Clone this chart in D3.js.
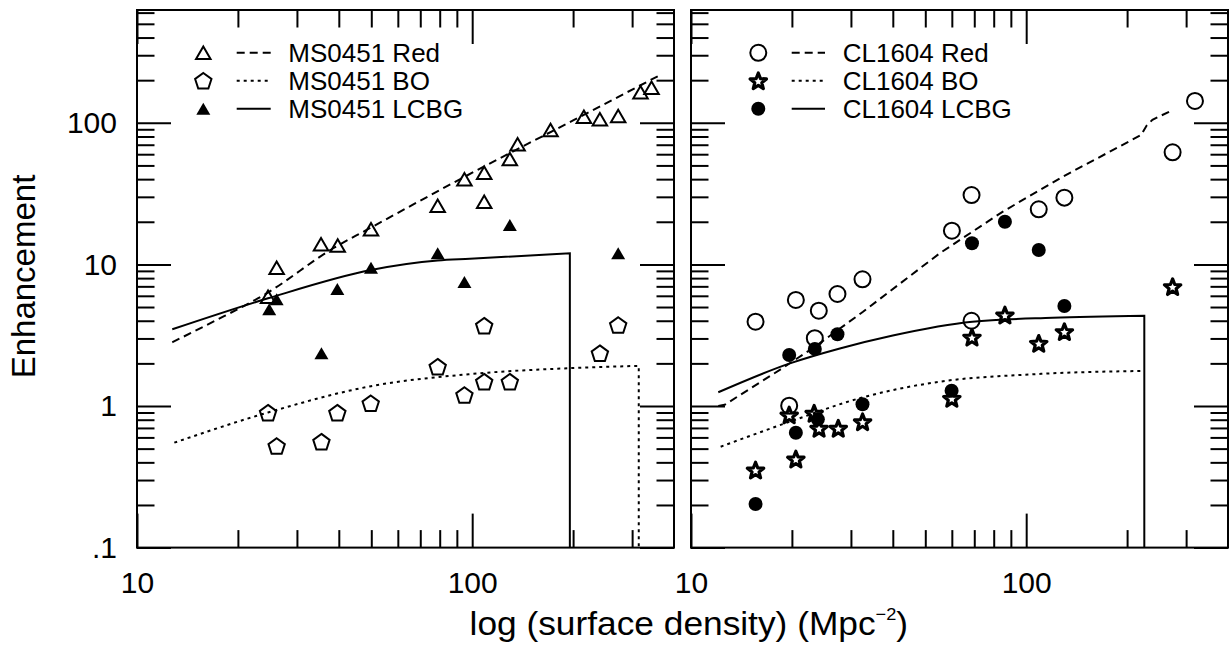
<!DOCTYPE html>
<html><head><meta charset="utf-8">
<script src="https://cdn.jsdelivr.net/npm/d3@7"></script>
<style>
html,body{margin:0;padding:0;background:#fff;}
svg{display:block;}
text{font-family:"Liberation Sans",Arial,Helvetica,sans-serif;fill:#000;}
</style>
</head><body>
<svg id="c" width="1232" height="654"></svg>
<script>
// ---------- axes / ticks ----------
const xDomain = [10, 400];
const yDomain = [0.1, 626];
const xMajorTicks = [10, 100];
const xTickLabels = ["10", "100"];
const xMinorTicks = [20, 30, 40, 50, 60, 70, 80, 90, 200, 300];
const yMajorTicks = [0.1, 1, 10, 100];
const yTickLabels = [".1", "1", "10", "100"];
const yMinorTicks = [0.2,0.3,0.4,0.5,0.6,0.7,0.8,0.9,2,3,4,5,6,7,8,9,20,30,40,50,60,70,80,90,200,300,400,500,600];

// ---------- MS0451 (left panel) ----------
const ms0451RedX = [24.6, 26.1, 35.4, 39.7, 49.9, 78.9, 94.8, 108.6, 108.6, 129.5, 136.6, 171.3, 215.4, 240.4, 272.6, 317.8, 342.8];
const ms0451RedY = [5.91, 9.48, 13.9, 13.6, 17.7, 26.0, 39.9, 44.4, 27.7, 55.5, 70.5, 89.0, 110.5, 105.9, 111.7, 164.2, 177];
const ms0451BOX = [24.6, 26.1, 35.5, 39.6, 49.8, 78.9, 94.8, 108.6, 108.6, 129.5, 240.4, 272.6];
const ms0451BOY = [0.897, 0.522, 0.560, 0.897, 1.045, 1.895, 1.196, 3.69, 1.485, 1.485, 2.36, 3.73];
const ms0451LcbgX = [24.8, 26.1, 35.5, 39.6, 49.9, 78.9, 94.8, 129.5, 272.6];
const ms0451LcbgY = [4.82, 5.67, 2.36, 6.70, 9.48, 11.98, 7.51, 18.98, 11.98];

// model curves (a repeated last x with 0.01 = vertical drop to the axis)
const ms0451RedCurveX = [12.74, 16.89, 24.37, 38.5, 48.4, 95.0, 200, 363];
const ms0451RedCurveY = [2.82, 3.94, 6.25, 13.0, 17.5, 41.6, 104, 217];
const ms0451BOCurveX = [12.92, 24.6, 49.9, 98.4, 195.6, 314, 314];
const ms0451BOCurveY = [0.551, 0.90, 1.38, 1.68, 1.85, 1.92, 0.01];
const ms0451LcbgCurveX = [12.74, 24.6, 49.9, 78.9, 98.4, 195.6, 195.6];
const ms0451LcbgCurveY = [3.48, 5.76, 9.13, 10.65, 10.95, 11.98, 0.01];

// ---------- CL1604 (right panel) ----------
const cl1604RedX = [15.58, 20.55, 24.06, 27.35, 32.48, 23.41, 19.63, 60.03, 68.7, 68.7, 109.0, 130.0, 273.4, 318.8];
const cl1604RedY = [3.94, 5.61, 4.71, 6.18, 7.85, 3.01, 1.005, 17.3, 30.9, 4.00, 24.5, 29.6, 61.9, 142.6];
const cl1604BOX = [15.58, 19.63, 20.55, 23.3, 24.1, 27.5, 32.5, 60.0, 68.9, 86.4, 109.0, 130.0, 273.4];
const cl1604BOY = [0.353, 0.864, 0.422, 0.888, 0.696, 0.696, 0.774, 1.133, 3.06, 4.39, 2.77, 3.35, 6.96];
const cl1604LcbgX = [19.63, 23.41, 27.35, 20.55, 15.58, 23.9, 32.48, 68.9, 86.4, 109.0, 130.0, 59.9];
const cl1604LcbgY = [2.29, 2.53, 3.21, 0.648, 0.203, 0.805, 1.028, 14.1, 20.0, 12.64, 5.08, 1.28];

const cl1604RedCurveX = [12.06, 12.6, 18.41, 23.41, 32.6, 55.2, 85.2, 128.5, 220.1, 229.0, 238.0, 267.2];
const cl1604RedCurveY = [1.0, 1.02, 1.80, 2.62, 4.63, 11.98, 23.6, 41.6, 82.0, 96.0, 105.0, 119.8];
const cl1604BOCurveX = [12.26, 19.72, 32.6, 55.2, 102.3, 225.1];
const cl1604BOCurveY = [0.516, 0.775, 1.152, 1.485, 1.67, 1.77];
const cl1604LcbgCurveX = [12.06, 19.72, 27.8, 40.0, 69.1, 120.0, 225.1, 225.1];
const cl1604LcbgCurveY = [1.25, 2.00, 2.55, 3.15, 3.94, 4.20, 4.34, 0.01];

const legendLeft = ["MS0451 Red", "MS0451 BO", "MS0451 LCBG"];
const legendRight = ["CL1604 Red", "CL1604 BO", "CL1604 LCBG"];

// ---------- drawing ----------
const svg = d3.select("#c");
const TOP = 10, BOTTOM = 547.6;
const panels = [{x0: 137, x1: 674}, {x0: 691, x1: 1228}];
const y = d3.scaleLog().domain(yDomain).range([BOTTOM, TOP]);
const zip = (xs, ys) => xs.map((v, i) => [v, ys[i]]);

const dashStyles = {dashed: "8,5", dotted: "3,4", solid: null};

function triPath(w, h) { return `M0,${-h/2}L${w/2},${h/2}L${-w/2},${h/2}Z`; }
function pentPath(r) {
  const off = 0.0955 * r;
  const pts = d3.range(5).map(k => {
    const a = (-90 + 72 * k) * Math.PI / 180;
    return [r * Math.cos(a), r * Math.sin(a) + off];
  });
  return "M" + pts.map(p => p.join(",")).join("L") + "Z";
}
function starPath(ro, ri) {
  const off = 0.0955 * ro;
  const pts = d3.range(10).map(k => {
    const a = (-90 + 36 * k) * Math.PI / 180;
    const r = k % 2 === 0 ? ro : ri;
    return [r * Math.cos(a), r * Math.sin(a) + off];
  });
  return "M" + pts.map(p => p.join(",")).join("L") + "Z";
}
const markers = {
  openTri: {d: triPath(14.5, 12.5), fill: "none", stroke: "#000", sw: 2},
  fillTri: {d: triPath(14, 12), fill: "#000", stroke: "none", sw: 0},
  pent: {d: pentPath(8.6), fill: "none", stroke: "#000", sw: 2},
  openCirc: {d: d3.arc()({innerRadius: 0, outerRadius: 8, startAngle: 0, endAngle: 2 * Math.PI}), fill: "none", stroke: "#000", sw: 2},
  fillCirc: {d: d3.arc()({innerRadius: 0, outerRadius: 7, startAngle: 0, endAngle: 2 * Math.PI}), fill: "#000", stroke: "none", sw: 0},
  star: {d: starPath(8.6, 3.7), fill: "none", stroke: "#000", sw: 3.2, join: "round"}
};

function drawPanel(pi, curves, series, legendNames, legendX, legendLineX, legendTextX) {
  const p = panels[pi];
  const x = d3.scaleLog().domain(xDomain).range([p.x0, p.x1]);
  const g = svg.append("g");

  const clipId = "clip" + pi;
  svg.append("clipPath").attr("id", clipId)
    .append("rect").attr("x", p.x0).attr("y", TOP).attr("width", p.x1 - p.x0).attr("height", BOTTOM - TOP);

  const styleAxis = sel => {
    sel.select(".domain").remove();
    sel.selectAll(".tick line").attr("stroke", "#000").attr("stroke-width", 2);
    sel.selectAll(".tick text").attr("font-size", 30).attr("font-family", "Liberation Sans, Arial, sans-serif").attr("fill", "#000");
  };
  g.append("g").attr("transform", `translate(0,${BOTTOM})`)
    .call(d3.axisBottom(x).tickValues(xMajorTicks).tickSizeInner(-34).tickSizeOuter(0).tickPadding(24)
      .tickFormat((d, i) => xTickLabels[i])).call(styleAxis);
  g.append("g").attr("transform", `translate(0,${BOTTOM})`)
    .call(d3.axisBottom(x).tickValues(xMinorTicks).tickSizeInner(-17.5).tickSizeOuter(0).tickFormat("")).call(styleAxis);
  g.append("g").attr("transform", `translate(0,${TOP})`)
    .call(d3.axisTop(x).tickValues(xMajorTicks).tickSizeInner(-34).tickSizeOuter(0).tickFormat("")).call(styleAxis);
  g.append("g").attr("transform", `translate(0,${TOP})`)
    .call(d3.axisTop(x).tickValues(xMinorTicks).tickSizeInner(-17.5).tickSizeOuter(0).tickFormat("")).call(styleAxis);
  g.append("g").attr("transform", `translate(${p.x0},0)`)
    .call(d3.axisLeft(y).tickValues(yMajorTicks).tickSizeInner(-34).tickSizeOuter(0).tickPadding(20)
      .tickFormat((d, i) => pi === 0 ? yTickLabels[i] : "")).call(styleAxis);
  g.append("g").attr("transform", `translate(${p.x0},0)`)
    .call(d3.axisLeft(y).tickValues(yMinorTicks).tickSizeInner(-17.5).tickSizeOuter(0).tickFormat("")).call(styleAxis);
  g.append("g").attr("transform", `translate(${p.x1},0)`)
    .call(d3.axisRight(y).tickValues(yMajorTicks).tickSizeInner(-34).tickSizeOuter(0).tickFormat("")).call(styleAxis);
  g.append("g").attr("transform", `translate(${p.x1},0)`)
    .call(d3.axisRight(y).tickValues(yMinorTicks).tickSizeInner(-17.5).tickSizeOuter(0).tickFormat("")).call(styleAxis);

  g.append("rect").attr("x", p.x0).attr("y", TOP).attr("width", p.x1 - p.x0).attr("height", BOTTOM - TOP)
    .attr("fill", "none").attr("stroke", "#000").attr("stroke-width", 2);

  // curves: interpolated part + optional vertical drop
  const straight = d3.line().x(d => x(d[0])).y(d => y(d[1]));
  const cg = g.append("g").attr("clip-path", `url(#${clipId})`);
  curves.forEach(c => {
    let pts = c.data, drop = null;
    const n = pts.length;
    if (n > 1 && pts[n - 1][0] === pts[n - 2][0]) { drop = pts.slice(n - 2); pts = pts.slice(0, n - 1); }
    const main = d3.line().x(d => x(d[0])).y(d => y(d[1])).curve(c.smooth ? d3.curveMonotoneX : d3.curveLinear);
    cg.append("path").attr("d", main(pts) + (drop ? straight(drop).replace(/^M/, "L") : ""))
      .attr("fill", "none").attr("stroke", "#000")
      .attr("stroke-width", 2).attr("stroke-dasharray", dashStyles[c.style]);
  });

  series.forEach(s => {
    const m = markers[s.marker];
    g.append("g").selectAll("path").data(s.data).join("path")
      .attr("d", m.d).attr("transform", d => `translate(${x(d[0])},${y(d[1])})`)
      .attr("fill", m.fill).attr("stroke", m.stroke).attr("stroke-width", m.sw)
      .attr("stroke-linejoin", m.join || "miter");
  });

  const baselines = [62.3, 90.3, 118.3];
  legendNames.forEach((name, i) => {
    const cy = baselines[i] - 9.5;
    const m = markers[series[i].marker];
    g.append("path").attr("d", m.d).attr("transform", `translate(${legendX},${cy})`)
      .attr("fill", m.fill).attr("stroke", m.stroke).attr("stroke-width", m.sw)
      .attr("stroke-linejoin", m.join || "miter");
    g.append("line").attr("x1", legendLineX[0]).attr("x2", legendLineX[1]).attr("y1", cy).attr("y2", cy)
      .attr("stroke", "#000").attr("stroke-width", 2).attr("stroke-dasharray", dashStyles[curves[i].style]);
    g.append("text").attr("x", legendTextX).attr("y", baselines[i]).attr("font-size", 26).text(name);
  });
}

drawPanel(0,
  [{data: zip(ms0451RedCurveX, ms0451RedCurveY), style: "dashed", smooth: true},
   {data: zip(ms0451BOCurveX, ms0451BOCurveY), style: "dotted", smooth: true},
   {data: zip(ms0451LcbgCurveX, ms0451LcbgCurveY), style: "solid", smooth: true}],
  [{data: zip(ms0451RedX, ms0451RedY), marker: "openTri"},
   {data: zip(ms0451BOX, ms0451BOY), marker: "pent"},
   {data: zip(ms0451LcbgX, ms0451LcbgY), marker: "fillTri"}],
  legendLeft, 203.3, [236.7, 270.7], 288.3);

drawPanel(1,
  [{data: zip(cl1604RedCurveX, cl1604RedCurveY), style: "dashed", smooth: false},
   {data: zip(cl1604BOCurveX, cl1604BOCurveY), style: "dotted", smooth: true},
   {data: zip(cl1604LcbgCurveX, cl1604LcbgCurveY), style: "solid", smooth: true}],
  [{data: zip(cl1604RedX, cl1604RedY), marker: "openCirc"},
   {data: zip(cl1604BOX, cl1604BOY), marker: "star"},
   {data: zip(cl1604LcbgX, cl1604LcbgY), marker: "fillCirc"}],
  legendRight, 758.3, [791.7, 825], 842.7);

svg.append("text").attr("transform", "translate(35,276.5) rotate(-90)")
  .attr("text-anchor", "middle").attr("font-size", 33).text("Enhancement");

const xt = svg.append("text").attr("transform", "translate(688.8,635) scale(1.07,1)")
  .attr("text-anchor", "middle").attr("font-size", 33);
xt.append("tspan").text("log (surface density) (Mpc");
xt.append("tspan").attr("font-size", 17).attr("dy", -15).text("\u22122");
xt.append("tspan").attr("dy", 15).text(")");
</script>
</body></html>
